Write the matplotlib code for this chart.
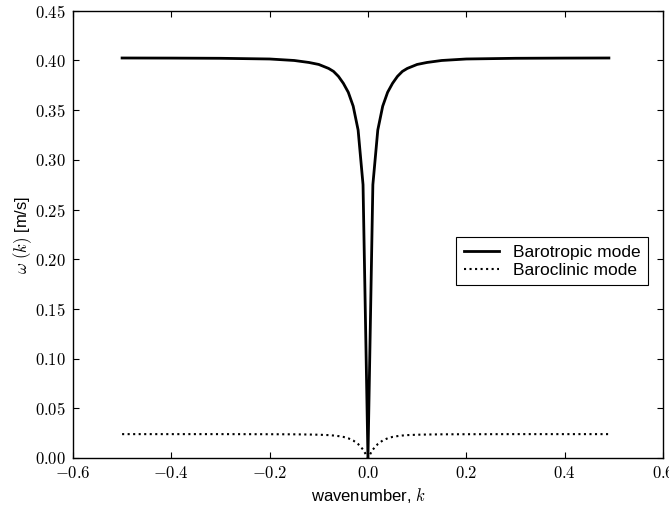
"""
Dispersion relation of the barotropic and baroclinic modes, omega(k).
"""

import matplotlib
matplotlib.use('Agg')
import matplotlib.pyplot as plt
from matplotlib.ticker import FuncFormatter, MultipleLocator

# ── Data (symmetric about k = 0) ───────────────────────────────
k_pos = [0.0, 0.01, 0.02, 0.03, 0.04, 0.05, 0.06, 0.07, 0.08, 0.10,
         0.12, 0.15, 0.20, 0.30, 0.40, 0.49]
barotropic_pos = [0.0, 0.275, 0.330, 0.354, 0.368, 0.377, 0.384, 0.389,
                  0.392, 0.396, 0.398, 0.400, 0.4015, 0.4022, 0.4024, 0.4025]
baroclinic_pos = [0.0, 0.0085, 0.0140, 0.0176, 0.0198, 0.0212, 0.0220,
                  0.0226, 0.0230, 0.0234, 0.0236, 0.0238, 0.0239, 0.0240,
                  0.0240, 0.0240]

k_neg = [-0.50, -0.40, -0.30, -0.20, -0.15, -0.12, -0.10, -0.08, -0.07,
         -0.06, -0.05, -0.04, -0.03, -0.02, -0.01]
barotropic_neg = [0.4025, 0.4024, 0.4022, 0.4015, 0.400, 0.398, 0.396,
                  0.392, 0.389, 0.384, 0.377, 0.368, 0.354, 0.330, 0.275]
baroclinic_neg = [0.0240, 0.0240, 0.0240, 0.0239, 0.0238, 0.0236, 0.0234,
                  0.0230, 0.0226, 0.0220, 0.0212, 0.0198, 0.0176, 0.0140,
                  0.0085]

k = k_neg + k_pos
barotropic = barotropic_neg + barotropic_pos
baroclinic = baroclinic_neg + baroclinic_pos

plt.rcParams['font.family'] = ['Liberation Sans', 'DejaVu Sans']
plt.rcParams['mathtext.fontset'] = 'cm'
plt.rcParams['font.size'] = 12

fig = plt.figure(figsize=(6.69, 5.14), dpi=100)
ax = fig.add_axes([0.109, 0.109, 0.882, 0.870])

ax.plot(k, barotropic, color='black', lw=2.0, label='Barotropic mode')
ax.plot(k, baroclinic, color='black', lw=1.5, ls=':', label='Baroclinic mode')

ax.set_xlim(-0.6, 0.6)
ax.set_ylim(0.0, 0.45)
ax.xaxis.set_major_locator(MultipleLocator(0.2))
ax.yaxis.set_major_locator(MultipleLocator(0.05))

# tick labels in Computer Modern, as in the old mathtext-style output
ax.xaxis.set_major_formatter(FuncFormatter(
    lambda v, p: r'$%.1f$' % (0.0 if abs(v) < 1e-9 else v)))
ax.yaxis.set_major_formatter(FuncFormatter(lambda v, p: r'$%.2f$' % v))

ax.tick_params(direction='in', length=4, width=0.8, top=True, right=True,
               labelsize=12, pad=5)
for s in ax.spines.values():
    s.set_linewidth(1.0)

ax.set_xlabel(r'wavenumber, $k$', fontsize=12)
ax.set_ylabel(r'$\omega\ (k)$ [m/s]', fontsize=12, labelpad=1)

leg = ax.legend(loc='center right', bbox_to_anchor=(0.975, 0.44),
                fancybox=False, framealpha=1.0, edgecolor='black',
                handlelength=2.0, borderpad=0.45, labelspacing=0.15,
                handletextpad=0.8, borderaxespad=0.0, fontsize=12.5)
leg.get_frame().set_linewidth(0.8)

fig.savefig('out.png', dpi=100)
plt.close(fig)
